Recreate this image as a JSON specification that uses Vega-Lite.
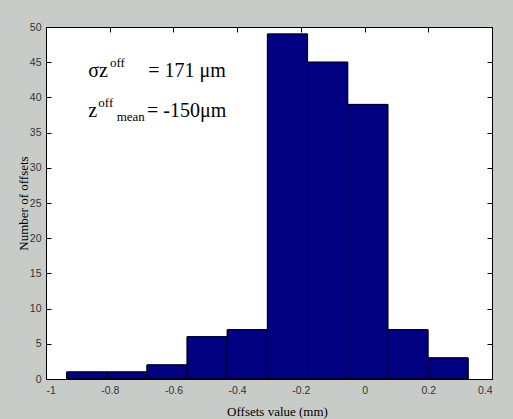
{
  "$schema": "https://vega.github.io/schema/vega-lite/v6.json",
  "width": 446,
  "height": 352,
  "autosize": {"type": "none"},
  "padding": {"left": 46, "top": 27, "right": 21, "bottom": 40},
  "background": "#c8ccc8",
  "config": {
    "view": {"fill": "white", "stroke": null},
    "axis": {
      "domainColor": "#000000",
      "tickColor": "#000000",
      "tickSize": -5,
      "grid": false,
      "labelFont": "Liberation Sans",
      "labelFontSize": 10.5,
      "labelColor": "#333333",
      "titleFont": "Liberation Serif",
      "titleFontSize": 13,
      "titleFontWeight": "normal",
      "titleColor": "#000000"
    }
  },
  "datasets": {
    "bins": [
      {"x0": -0.935, "x1": -0.809, "count": 1},
      {"x0": -0.809, "x1": -0.683, "count": 1},
      {"x0": -0.683, "x1": -0.557, "count": 2},
      {"x0": -0.557, "x1": -0.431, "count": 6},
      {"x0": -0.431, "x1": -0.305, "count": 7},
      {"x0": -0.305, "x1": -0.179, "count": 49},
      {"x0": -0.179, "x1": -0.053, "count": 45},
      {"x0": -0.053, "x1": 0.073, "count": 39},
      {"x0": 0.073, "x1": 0.199, "count": 7},
      {"x0": 0.199, "x1": 0.325, "count": 3}
    ],
    "notes": [
      {"x": -0.8672, "y": 42.87, "t": "σz", "r": "main"},
      {"x": -0.7991, "y": 44.3, "t": "off", "r": "script"},
      {"x": -0.6789, "y": 42.87, "t": "= 171 μm", "r": "main"},
      {"x": -0.8672, "y": 37.19, "t": "z", "r": "main"},
      {"x": -0.8358, "y": 38.6, "t": "off", "r": "script"},
      {"x": -0.7781, "y": 36.62, "t": "mean", "r": "script"},
      {"x": -0.683, "y": 37.19, "t": "= -150μm", "r": "main"}
    ]
  },
  "layer": [
    {
      "data": {"name": "bins"},
      "mark": {"type": "rect", "color": "#000080", "stroke": "#000000", "strokeWidth": 1},
      "encoding": {
        "x": {
          "field": "x0", "type": "quantitative",
          "scale": {"domain": [-1, 0.4], "nice": false, "zero": false},
          "axis": {
            "orient": "bottom",
            "title": "Offsets value (mm)",
            "values": [-1, -0.8, -0.6, -0.4, -0.2, 0, 0.2, 0.4],
            "labelExpr": "'' + datum.value",
            "labelPadding": 11,
            "titleX": 231,
            "titleY": 32.5,
            "titleBaseline": "middle"
          }
        },
        "x2": {"field": "x1"},
        "y": {
          "field": "count", "type": "quantitative",
          "scale": {"domain": [0, 50], "nice": false},
          "axis": {
            "orient": "left",
            "title": "Number of offsets",
            "values": [0, 5, 10, 15, 20, 25, 30, 35, 40, 45, 50],
            "labelExpr": "'' + datum.value",
            "labelPadding": 10,
            "titleX": -23,
            "titleY": 176,
            "titleBaseline": "middle"
          }
        },
        "y2": {"datum": 0}
      }
    },
    {
      "data": {"name": "bins"},
      "mark": {"type": "rect", "color": "#000080", "stroke": "#000000", "strokeWidth": 1},
      "encoding": {
        "x": {
          "field": "x0", "type": "quantitative",
          "axis": {"orient": "top", "title": null, "labels": false,
                   "values": [-1, -0.8, -0.6, -0.4, -0.2, 0, 0.2, 0.4]}
        },
        "x2": {"field": "x1"},
        "y": {
          "field": "count", "type": "quantitative",
          "axis": {"orient": "right", "title": null, "labels": false,
                   "values": [0, 5, 10, 15, 20, 25, 30, 35, 40, 45, 50]}
        },
        "y2": {"datum": 0}
      }
    },
    {
      "data": {"name": "notes"},
      "transform": [{"filter": "datum.r == 'main'"}],
      "mark": {"type": "text", "align": "left", "baseline": "alphabetic", "font": "Liberation Serif", "fontSize": 20, "color": "#000000"},
      "encoding": {
        "x": {"field": "x", "type": "quantitative", "axis": null},
        "y": {"field": "y", "type": "quantitative", "axis": null},
        "text": {"field": "t"}
      }
    },
    {
      "data": {"name": "notes"},
      "transform": [{"filter": "datum.r == 'script'"}],
      "mark": {"type": "text", "align": "left", "baseline": "alphabetic", "font": "Liberation Serif", "fontSize": 13, "color": "#000000"},
      "encoding": {
        "x": {"field": "x", "type": "quantitative", "axis": null},
        "y": {"field": "y", "type": "quantitative", "axis": null},
        "text": {"field": "t"}
      }
    }
  ],
  "resolve": {"axis": {"x": "independent", "y": "independent"}}
}
